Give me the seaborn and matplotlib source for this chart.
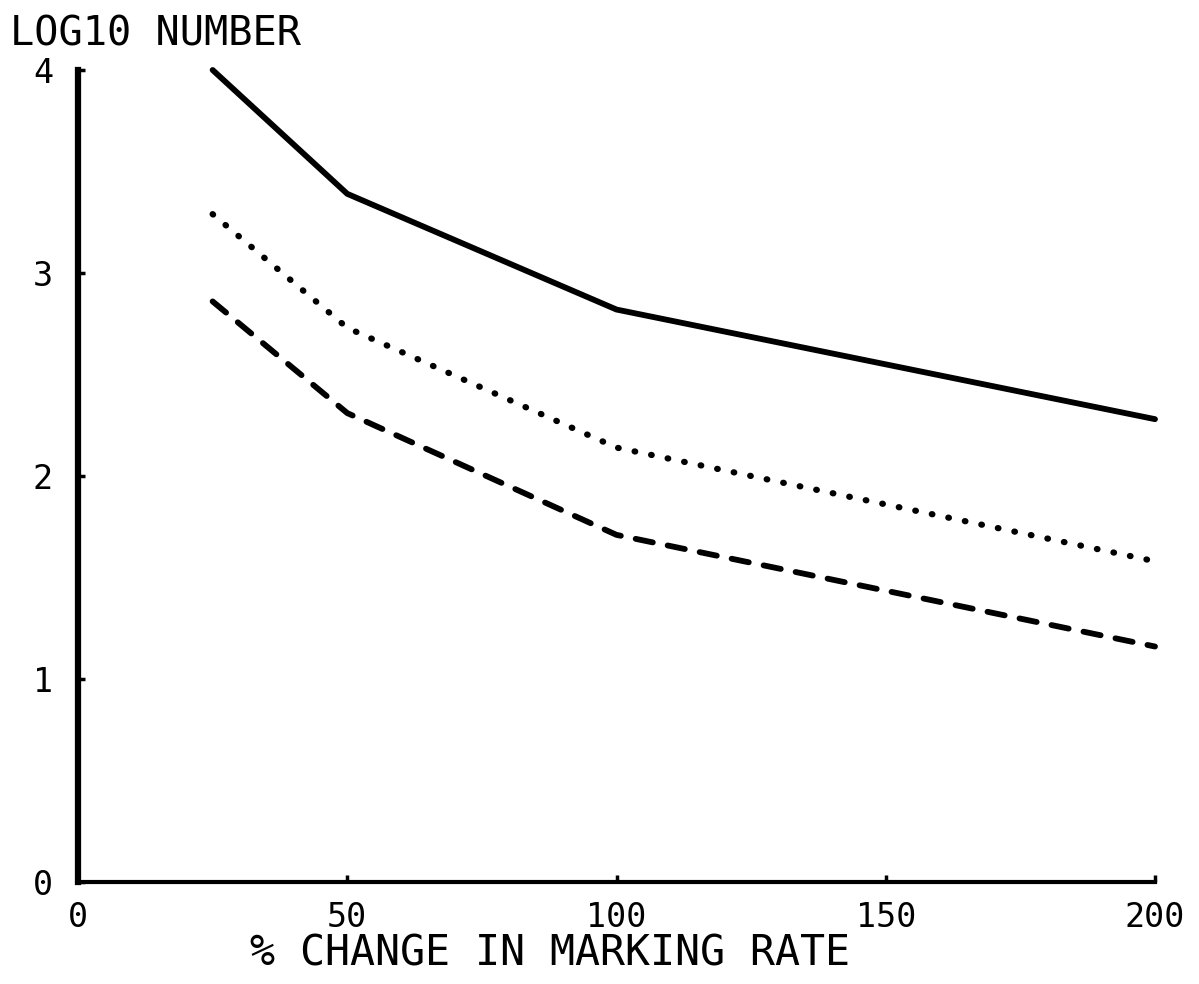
import matplotlib.pyplot as plt
import seaborn as sns

# values (x = % change in marking rate)
pct_change = [25, 50, 100, 200]
solid_line = [4.00, 3.39, 2.82, 2.28]
dotted_line = [3.29, 2.73, 2.14, 1.58]
dashed_line = [2.86, 2.31, 1.71, 1.16]

x_ticks = [0, 50, 100, 150, 200]
y_ticks = [0, 1, 2, 3, 4]


def main() -> None:
    sns.set_style("ticks")
    plt.rcParams["font.family"] = ["DejaVu Sans Mono", "DejaVu Sans"]
    plt.rcParams["text.color"] = "black"

    fig = plt.figure(figsize=(11.99, 9.84), dpi=100)
    ax = fig.add_axes([78 / 1199, 1 - 882 / 984, (1155 - 78) / 1199, (882 - 70) / 984])

    sns.lineplot(x=pct_change, y=solid_line, ax=ax, color="black", lw=4.2,
                 solid_capstyle="round", clip_on=False)
    sns.lineplot(x=pct_change, y=dotted_line, ax=ax, color="black", lw=4.5,
                 linestyle=(0, (0.1, 2.6)), dash_capstyle="round", clip_on=False)
    sns.lineplot(x=pct_change, y=dashed_line, ax=ax, color="black", lw=4.2,
                 linestyle=(0, (3.0, 2.6)), dash_capstyle="round", clip_on=False)

    ax.set_xlim(0, 200)
    ax.set_ylim(0, 4)
    ax.set_xticks(x_ticks)
    ax.set_yticks(y_ticks)
    ax.tick_params(axis="both", direction="in", length=5, width=2.5,
                   labelsize=24, colors="black")
    ax.tick_params(axis="x", pad=14)
    ax.tick_params(axis="y", pad=18)
    sns.despine(ax=ax)
    ax.spines["left"].set_linewidth(4.5)
    ax.spines["bottom"].set_linewidth(3)
    ax.spines["left"].set_color("black")
    ax.spines["bottom"].set_color("black")
    ax.set_xlabel("")
    ax.set_ylabel("")

    fig.text(10 / 1199, 1 - 45 / 984, "LOG10 NUMBER", fontsize=29, va="baseline",
             ha="left", color="black")
    fig.text(550 / 1199, 1 - 965 / 984, "% CHANGE IN MARKING RATE", fontsize=30,
             va="baseline", ha="center", color="black")

    fig.savefig("out.png", dpi=100, facecolor="white")
    plt.close(fig)


if __name__ == "__main__":
    main()
